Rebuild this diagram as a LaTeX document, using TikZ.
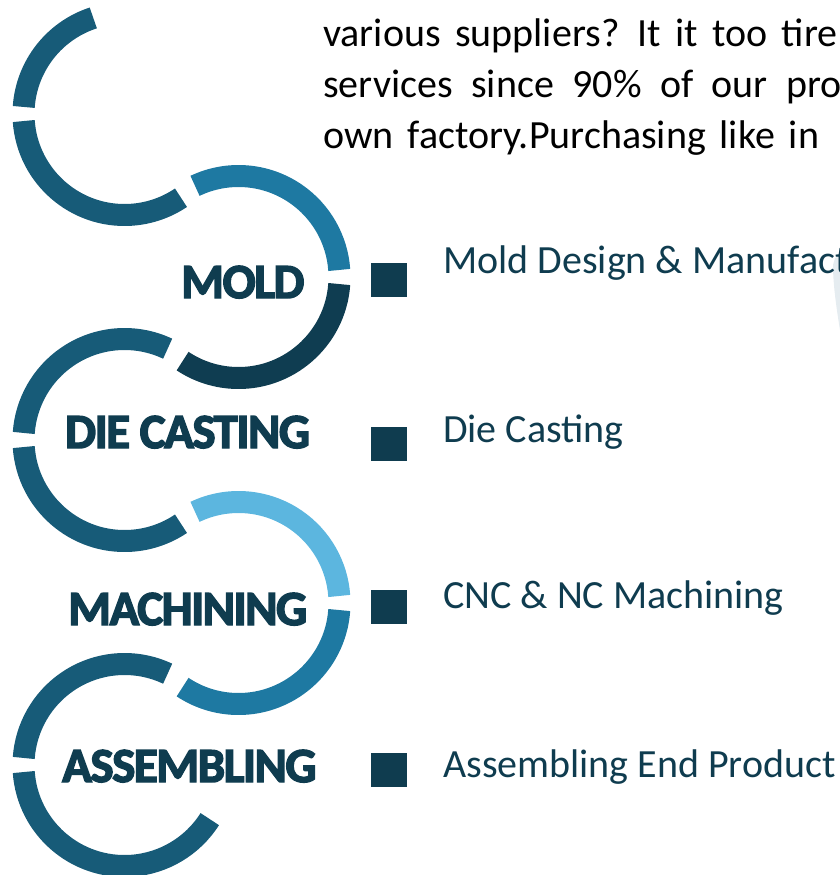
\documentclass[tikz,border=0pt]{standalone}
\usepackage{fontspec}
\setmainfont{Carlito}
\newfontfamily\titlefont{Carlito}[BoldFeatures={FakeBold=3,LetterSpace=-3}]
\definecolor{ringA}{HTML}{175B78}
\definecolor{ringB}{HTML}{1E79A2}
\definecolor{ringC}{HTML}{0F3D51}
\definecolor{ringL}{HTML}{5CB6DF}
\definecolor{titlec}{HTML}{0F3C4F}
\definecolor{ghost}{HTML}{E5ECF0}
\begin{document}
\begin{tikzpicture}[x=1pt,y=1pt,
  ring/.style={line width=22pt},
  steptitle/.style={font=\titlefont\bfseries\fontsize{49}{60}\selectfont, text=titlec, anchor=base west, inner sep=0pt},
  steptext/.style={font=\fontsize{40}{48}\selectfont, text=titlec, anchor=base west, inner sep=0pt},
  bodytext/.style={font=\fontsize{40}{48}\selectfont, text=black, anchor=base west, inner sep=0pt},
  bullet/.style={fill=titlec, minimum width=36pt, minimum height=34pt, inner sep=0pt, draw=none}]
\useasboundingbox (0,0) rectangle (840,-875);
\clip (0,0) rectangle (840,-875);
% faint shape at right edge
\fill[ghost] (835,-258) -- (840,-256) -- (840,-330) .. controls (835,-300) and (833,-280) .. (833,-265) -- cycle;
% circle centres
\coordinate (c1) at (124.5,-114);
\coordinate (c2) at (238.5,-277);
\coordinate (c3) at (124.5,-440);
\coordinate (c4) at (238.5,-603);
\coordinate (c5) at (124.5,-765);
% circle 1
\draw[ring, ringA] ([shift={(108:101pt)}]c1) arc[start angle=108, end angle=176, radius=101pt];
\draw[ring, ringA] ([shift={(184:101pt)}]c1) arc[start angle=184, end angle=304, radius=101pt];
% circle 2
\draw[ring, ringB] ([shift={(115.5:101pt)}]c2) arc[start angle=115.5, end angle=4, radius=101pt];
\draw[ring, ringC] ([shift={(-4:101pt)}]c2) arc[start angle=-4, end angle=-123.6, radius=101pt];
% circle 3
\draw[ring, ringA] ([shift={(64.7:101pt)}]c3) arc[start angle=64.7, end angle=176, radius=101pt];
\draw[ring, ringA] ([shift={(184:101pt)}]c3) arc[start angle=184, end angle=304, radius=101pt];
% circle 4
\draw[ring, ringL] ([shift={(115.5:101pt)}]c4) arc[start angle=115.5, end angle=4, radius=101pt];
\draw[ring, ringB] ([shift={(-4:101pt)}]c4) arc[start angle=-4, end angle=-123.6, radius=101pt];
% circle 5
\draw[ring, ringA] ([shift={(64.7:101pt)}]c5) arc[start angle=64.7, end angle=176, radius=101pt];
\draw[ring, ringA] ([shift={(184:101pt)}]c5) arc[start angle=184, end angle=327.6, radius=101pt];
% titles
\node[steptitle] (t1) at (181,-298) {MOLD};
\node[steptitle] (t2) at (65,-448) {DIE CASTING};
\node[steptitle] (t3) at (68,-625) {MACHINING};
\node[steptitle] (t4) at (62,-782) {ASSEMBLING};
% bullets
\node[bullet] (s1) at (389,-280) {};
\node[bullet] (s2) at (389,-443.5) {};
\node[bullet] (s3) at (389,-606.5) {};
\node[bullet] (s4) at (389,-770) {};
% step texts
\node[steptext] (l1) at (443,-273) {Mold Design \& Manufact};
\node[steptext] (l2) at (443,-442) {Die Casting};
\node[steptext] (l3) at (443,-608) {CNC \& NC Machining};
\node[steptext] (l4) at (443,-777) {Assembling End Product};
% body text
\node[bodytext] (b1) at (323,-47) {\spaceskip=14.5pt various suppliers? It it too tire};
\node[bodytext] (b2) at (323,-97) {\spaceskip=18.5pt services since 90\% of our pro};
\node[bodytext] (b3) at (323,-148) {\spaceskip=14pt own factory.Purchasing like in};
\end{tikzpicture}
\end{document}
